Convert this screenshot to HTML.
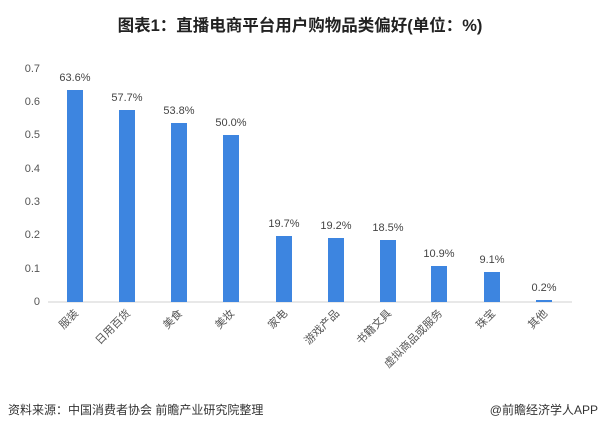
<!DOCTYPE html>
<html><head><meta charset="utf-8"><style>
html,body{margin:0;padding:0;background:#fff;}
svg{display:block;}
text{font-family:"Liberation Sans","Noto Sans CJK SC",sans-serif;}
</style></head><body>
<svg width="600" height="430" viewBox="0 0 600 430" xmlns="http://www.w3.org/2000/svg">
<text x="300" y="31" text-anchor="middle" font-size="16.5" font-weight="bold" fill="#222">图表1：直播电商平台用户购物品类偏好(单位：%)</text>
<g font-size="11" fill="#555" text-anchor="end">
<text x="40" y="72">0.7</text>
<text x="40" y="105">0.6</text>
<text x="40" y="138">0.5</text>
<text x="40" y="172">0.4</text>
<text x="40" y="205">0.3</text>
<text x="40" y="238">0.2</text>
<text x="40" y="272">0.1</text>
<text x="40" y="305">0</text>
</g>
<line x1="48" y1="302" x2="572" y2="302" stroke="#d0d0d0" stroke-width="1"/>
<g fill="#3d85e0">
<rect x="67" y="90" width="16" height="212"/>
<rect x="119" y="110" width="16" height="192"/>
<rect x="171" y="123" width="16" height="179"/>
<rect x="223" y="135" width="16" height="167"/>
<rect x="276" y="236" width="16" height="66"/>
<rect x="328" y="238" width="16" height="64"/>
<rect x="380" y="240" width="16" height="62"/>
<rect x="431" y="266" width="16" height="36"/>
<rect x="484" y="272" width="16" height="30"/>
<rect x="536" y="300" width="16" height="2"/>
</g>
<g font-size="11" fill="#444" text-anchor="middle">
<text x="75" y="81">63.6%</text>
<text x="127" y="101">57.7%</text>
<text x="179" y="114">53.8%</text>
<text x="231" y="126">50.0%</text>
<text x="284" y="227">19.7%</text>
<text x="336" y="229">19.2%</text>
<text x="388" y="231">18.5%</text>
<text x="439" y="257">10.9%</text>
<text x="492" y="263">9.1%</text>
<text x="544" y="291">0.2%</text>
</g>
<g font-size="11" fill="#555" text-anchor="end" font-family="'Noto Serif CJK SC',serif">
<text transform="translate(79,314) rotate(-45)">服装</text>
<text transform="translate(131,314) rotate(-45)">日用百货</text>
<text transform="translate(183,314) rotate(-45)">美食</text>
<text transform="translate(235,314) rotate(-45)">美妆</text>
<text transform="translate(288,314) rotate(-45)">家电</text>
<text transform="translate(340,314) rotate(-45)">游戏产品</text>
<text transform="translate(392,314) rotate(-45)">书籍文具</text>
<text transform="translate(443,314) rotate(-45)">虚拟商品或服务</text>
<text transform="translate(496,314) rotate(-45)">珠宝</text>
<text transform="translate(548,314) rotate(-45)">其他</text>
</g>
<text x="8" y="414" font-size="12" fill="#333">资料来源：中国消费者协会 前瞻产业研究院整理</text>
<text x="598" y="414" font-size="12" fill="#333" text-anchor="end">@前瞻经济学人APP</text>
</svg>
</body></html>
